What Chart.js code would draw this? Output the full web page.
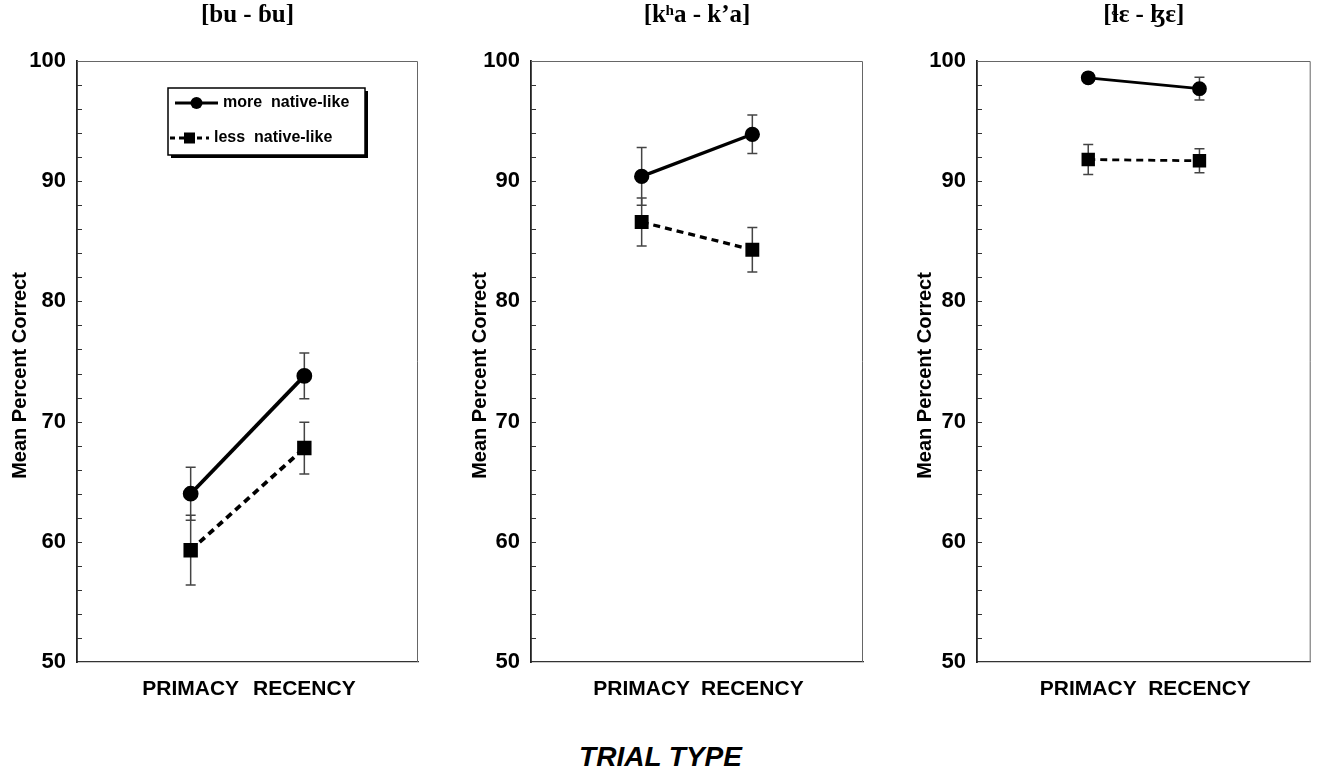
<!DOCTYPE html>
<html>
<head>
<meta charset="utf-8">
<script src="https://cdn.jsdelivr.net/npm/chart.js@4.4.1/dist/chart.umd.min.js"></script>
<style>
  html, body { margin: 0; padding: 0; overflow: hidden; background: #fff; }
  #page { width: 1321px; height: 772px; position: relative; }
  canvas { position: absolute; top: 0; }
  #xTitle { position: absolute; left: 0; width: 1321px; top: 741px; text-align: center;
    font: italic bold 28px "Liberation Sans", Arial, sans-serif; color: #000; }
</style>
</head>
<body>
<div id="page">
<canvas id="c1" width="440" height="702" style="left:0"></canvas>
<canvas id="c2" width="430" height="702" style="left:450px"></canvas>
<canvas id="c3" width="426" height="702" style="left:895px"></canvas>
<div id="xTitle">TRIAL TYPE</div>
</div>
<script>
const trialTypes = ["PRIMACY", "RECENCY"];
const panelTitles = ["[bu - ɓu]", "[kʰa - k’a]", "[ɬɛ - ɮɛ]"];
const seriesNames = ["more  native-like", "less  native-like"];
const yAxisTitle = "Mean Percent Correct";

// means and error bar half-lengths
const buMore = [64.0, 73.8];
const buMoreErr = [2.2, 1.9];
const buLess = [59.3, 67.8];
const buLessErr = [2.9, 2.15];

const khaMore = [90.4, 93.9];
const khaMoreErr = [2.4, 1.6];
const khaLess = [86.6, 84.3];
const khaLessErr = [2.0, 1.85];

const lzMore = [98.6, 97.7];
const lzMoreErr = [0.4, 0.95];
const lzLess = [91.8, 91.7];
const lzLessErr = [1.25, 1.0];

const yMin = 50, yMax = 100, yStep = 10, yMinorStep = 2;

const sans = "'Liberation Sans', Arial, sans-serif";
const serif = "'Liberation Serif', 'DejaVu Serif', serif";

// pad both ends so the two trial types sit at 1/3 and 2/3 of the width
const xLabels = [""].concat(trialTypes, [""]);
const pad = arr => [null].concat(arr, [null]);

const errorBars = {
  id: "errorBars",
  beforeDatasetsDraw(chart) {
    const ctx = chart.ctx, y = chart.scales.y;
    ctx.save();
    ctx.strokeStyle = "#444";
    ctx.lineWidth = 1.5;
    chart.data.datasets.forEach((ds, i) => {
      const meta = chart.getDatasetMeta(i);
      meta.data.forEach((pt, j) => {
        const v = ds.data[j];
        if (v == null) return;
        const e = ds.errors[j - 1];
        const top = y.getPixelForValue(v + e), bot = y.getPixelForValue(v - e);
        ctx.beginPath();
        ctx.moveTo(pt.x, top); ctx.lineTo(pt.x, bot);
        ctx.moveTo(pt.x - 5, top); ctx.lineTo(pt.x + 5, top);
        ctx.moveTo(pt.x - 5, bot); ctx.lineTo(pt.x + 5, bot);
        ctx.stroke();
      });
    });
    ctx.restore();
  }
};

const frame = {
  id: "frame",
  beforeDatasetsDraw(chart) {
    const { ctx, chartArea: a } = chart;
    const y = chart.scales.y;
    ctx.save();
    ctx.strokeStyle = "#666";
    ctx.lineWidth = 1;
    ctx.beginPath();
    ctx.moveTo(a.left, a.top + 0.5); ctx.lineTo(a.right - 0.5, a.top + 0.5); ctx.lineTo(a.right - 0.5, a.bottom);
    ctx.stroke();
    // inward minor ticks
    ctx.strokeStyle = "#333";
    ctx.beginPath();
    for (let v = yMin + yMinorStep; v < yMax; v += yMinorStep) {
      const p = Math.round(y.getPixelForValue(v)) + 0.5;
      ctx.moveTo(a.left, p); ctx.lineTo(a.left + 5, p);
    }
    ctx.stroke();
    ctx.restore();
  }
};

// panel title centred over the plot area, y title a little below the axis middle
const texts = {
  id: "texts",
  afterDraw(chart) {
    const a = chart.chartArea;
    const o = chart.options.plugins.texts;
    const ctx = chart.ctx;
    ctx.save();
    ctx.fillStyle = "#000";
    ctx.textAlign = "center";
    ctx.textBaseline = "middle";
    ctx.font = "bold 25px " + serif;
    ctx.fillText(o.title, (a.left + a.right) / 2, 16);
    ctx.translate(o.yTitleX, (a.top + a.bottom) / 2 + 14);
    ctx.rotate(-Math.PI / 2);
    ctx.font = "bold 20px " + sans;
    ctx.fillText(yAxisTitle, 0, 0);
    ctx.restore();
  }
};

const legendBox = {
  id: "legendBox",
  afterDraw(chart) {
    if (!chart.options.plugins.legendBox.show) return;
    const ctx = chart.ctx;
    const bx = 168, by = 88, bw = 197, bh = 67;
    ctx.save();
    ctx.fillStyle = "#000";
    ctx.fillRect(bx + 3, by + 3, bw, bh);
    ctx.fillStyle = "#fff";
    ctx.fillRect(bx, by, bw, bh);
    ctx.strokeStyle = "#000";
    ctx.lineWidth = 1.5;
    ctx.strokeRect(bx, by, bw, bh);
    ctx.font = "bold 16px " + sans;
    ctx.textBaseline = "middle";
    chart.data.datasets.forEach((ds, i) => {
      const ry = by + 15 + i * 35;
      const dashed = !!ds.borderDash;
      const x0 = dashed ? bx + 2 : bx + 7, x1 = dashed ? bx + 41 : bx + 50;
      const mx = (x0 + x1) / 2;
      ctx.strokeStyle = "#000";
      ctx.lineWidth = 3;
      ctx.setLineDash(dashed ? [5, 4] : []);
      ctx.beginPath();
      ctx.moveTo(x0, ry); ctx.lineTo(x1, ry);
      ctx.stroke();
      ctx.setLineDash([]);
      ctx.fillStyle = "#000";
      if (ds.pointStyle === "rect") {
        ctx.fillRect(mx - 5.5, ry - 5.5, 11, 11);
      } else {
        ctx.beginPath(); ctx.arc(mx, ry, 6, 0, Math.PI * 2); ctx.fill();
      }
      ctx.fillText(ds.label, x1 + 5, ry);
    });
    ctx.restore();
  }
};

function makePanel(id, title, more, moreErr, less, lessErr, o) {
  new Chart(document.getElementById(id), {
    type: "line",
    data: {
      labels: xLabels,
      datasets: [
        { label: seriesNames[0], data: pad(more), errors: moreErr,
          borderColor: "#000", backgroundColor: "#000", borderWidth: o.lw,
          pointStyle: "circle", pointRadius: 6, pointHoverRadius: 6 },
        { label: seriesNames[1], data: pad(less), errors: lessErr,
          borderColor: "#000", backgroundColor: "#000", borderWidth: o.lw, borderDash: [7, 5],
          pointStyle: "rect", pointRadius: 7.5, pointHoverRadius: 7.5 }
      ]
    },
    options: {
      responsive: false,
      animation: false,
      layout: { padding: { left: 0, right: o.right, top: 61, bottom: 0 } },
      plugins: {
        legend: { display: false },
        tooltip: { enabled: false },
        title: { display: false },
        texts: { title: title, yTitleX: o.yTitleX },
        legendBox: { show: o.legend }
      },
      scales: {
        x: {
          type: "category",
          // invisible tick marks push the labels down without the side padding ticks.padding adds
          grid: { display: true, drawOnChartArea: false, drawTicks: true, tickLength: 15,
                  tickColor: "rgba(0,0,0,0)" },
          border: { color: "#333", width: 1.2 },
          ticks: { color: "#000", padding: 0, autoSkip: false, maxRotation: 0,
                   font: { family: sans, size: 21, weight: "bold" } },
          afterFit: s => { s.height = 40; }
        },
        y: {
          min: yMin, max: yMax,
          grid: { display: false, drawTicks: false },
          border: { color: "#222", width: 1.8 },
          ticks: { stepSize: yStep, color: "#000", padding: 11,
                   font: { family: sans, size: 22, weight: "bold" } },
          afterFit: s => { s.width = o.yw; }
        }
      }
    },
    plugins: [frame, errorBars, texts, legendBox]
  });
}

makePanel("c1", panelTitles[0], buMore, buMoreErr, buLess, buLessErr,
  { yw: 77, right: 22, yTitleX: 20, lw: 3.8, legend: true });
makePanel("c2", panelTitles[1], khaMore, khaMoreErr, khaLess, khaLessErr,
  { yw: 81, right: 17, yTitleX: 30, lw: 3.3, legend: false });
makePanel("c3", panelTitles[2], lzMore, lzMoreErr, lzLess, lzLessErr,
  { yw: 82, right: 8, yTitleX: 30, lw: 2.8, legend: false });
</script>
</body>
</html>
